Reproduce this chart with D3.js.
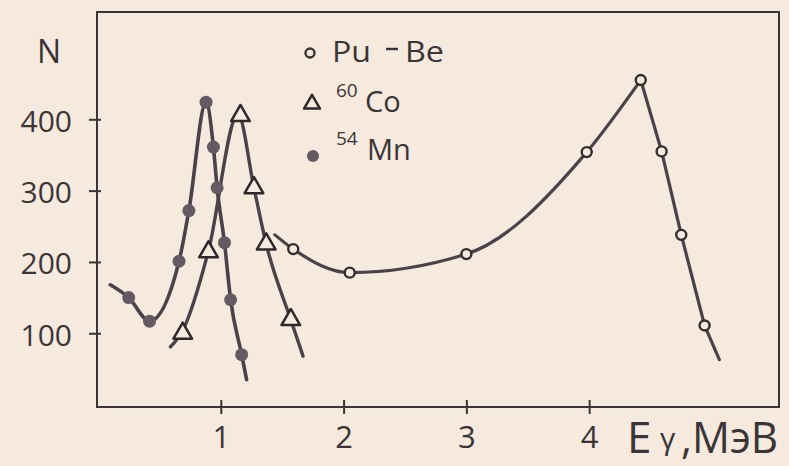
<!DOCTYPE html>
<html>
<head>
<meta charset="utf-8">
<script src="https://cdn.jsdelivr.net/npm/d3@7"></script>
<style>
  body { margin: 0; background: #f6e9dd; }
  svg { display: block; }
  text { font-family: "Open Sans", "DejaVu Sans", sans-serif; font-weight: 400; fill: #3b3537; }
</style>
</head>
<body>
<div id="chart"></div>
<script>
var canvasWidth = 789;
var canvasHeight = 466;

// values (E in MeV, N counts)
var xTicks = [1, 2, 3, 4];
var yTicks = [100, 200, 300, 400];

var puE = [1.59, 2.05, 3.00, 3.98, 4.42, 4.59, 4.75, 4.94];
var puN = [218, 185, 211, 354, 455, 355, 238, 111];
var puCurveE = [1.44, 1.59, 2.05, 3.00, 3.98, 4.42];
var puCurveN = [238, 218, 185, 211, 354, 455];
var puTailE = [4.42, 4.59, 4.75, 4.94, 5.06];
var puTailN = [455, 355, 238, 111, 63];

var coE = [0.69, 0.90, 1.16, 1.27, 1.37, 1.57];
var coN = [100, 214, 405, 304, 225, 119];
var coCurveE = [0.59, 0.69, 0.90, 1.14, 1.27, 1.37, 1.57, 1.67];
var coCurveN = [81, 104, 216, 407, 304, 225, 119, 68];

var mnE = [0.25, 0.42, 0.66, 0.74, 0.88, 0.94, 0.97, 1.03, 1.08, 1.17];
var mnN = [150, 117, 201, 272, 424, 361, 304, 227, 147, 70];
var mnCurveE = [0.10, 0.25, 0.42, 0.66, 0.74, 0.88, 0.94, 0.97, 1.03, 1.08, 1.17, 1.21];
var mnCurveN = [168, 150, 117, 201, 272, 424, 361, 304, 227, 147, 70, 35];

var svg = d3.select("#chart")
    .append("svg")
    .attr("width", canvasWidth)
    .attr("height", canvasHeight);

var xScale = d3.scaleLinear().domain([0, 5.546]).range([98, 779]);
var yScale = d3.scaleLinear().domain([0, 550]).range([404.6, 12.3]);

var ink = "#3b3537";
var lineCol = "#4a4248";
var paper = "#f6e9dd";

/*frame*/
svg.append("rect")
    .attr("x", 97).attr("y", 12)
    .attr("width", 682).attr("height", 395)
    .attr("fill", "none")
    .attr("stroke", ink)
    .attr("stroke-width", 2);

/*X axis with crossing ticks*/
var xAxis = svg.append("g")
    .attr("transform", "translate(0,407)")
    .call(d3.axisBottom(xScale).tickValues(xTicks).tickSize(7).tickPadding(12).tickFormat(d3.format("d")));
xAxis.select(".domain").remove();
xAxis.selectAll("line").attr("y1", -7).attr("stroke", ink).attr("stroke-width", 2);
xAxis.selectAll("text").attr("font-size", 31).attr("font-family", null).attr("fill", ink);

/*Y axis*/
var yAxis = svg.append("g")
    .attr("transform", "translate(97,0)")
    .call(d3.axisLeft(yScale).tickValues(yTicks).tickSize(8).tickPadding(17));
yAxis.select(".domain").remove();
yAxis.selectAll("line").attr("x1", 4).attr("stroke", ink).attr("stroke-width", 2);
yAxis.selectAll("text").attr("font-size", 30).attr("font-family", null).attr("fill", ink).attr("dy", "0.4em");

svg.append("text").attr("x", 37).attr("y", 63).attr("font-size", 32).text("N");

/*x label*/
svg.append("text").attr("x", 627).attr("y", 453).attr("font-size", 44).text("E");
svg.append("text").attr("x", 660).attr("y", 449).attr("font-size", 30).text("γ");
svg.append("text").attr("x", 681).attr("y", 453).attr("font-size", 44)
    .attr("textLength", 97).attr("lengthAdjust", "spacingAndGlyphs").text(",МэВ");

/*curves*/
function drawCurve(xs, ys, curve, width) {
    var pts = xs.map(function(d, i) { return [d, ys[i]]; });
    svg.append("path")
        .attr("fill", "none")
        .attr("stroke", lineCol)
        .attr("stroke-width", width)
        .attr("stroke-linecap", "round")
        .attr("d", d3.line()
            .x(function(d) { return xScale(d[0]); })
            .y(function(d) { return yScale(d[1]); })
            .curve(curve)(pts));
}
drawCurve(mnCurveE, mnCurveN, d3.curveMonotoneX, 3.6);
drawCurve(coCurveE, coCurveN, d3.curveMonotoneX, 3.4);
drawCurve(puCurveE, puCurveN, d3.curveMonotoneX, 3.2);
drawCurve(puTailE, puTailN, d3.curveLinear, 3.2);

/*markers*/
svg.append("g").selectAll("circle")
    .data(mnE)
    .join("circle")
    .attr("cx", function(d) { return xScale(d); })
    .attr("cy", function(d, i) { return yScale(mnN[i]); })
    .attr("r", 6.5)
    .attr("fill", "#655a63");

var tri = d3.symbol().type(d3.symbolTriangle).size(150);
svg.append("g").selectAll("path")
    .data(coE)
    .join("path")
    .attr("d", tri)
    .attr("transform", function(d, i) { return "translate(" + xScale(d) + "," + yScale(coN[i]) + ")"; })
    .attr("fill", paper)
    .attr("stroke", "#2e282a")
    .attr("stroke-width", 2.5)
    .attr("stroke-linejoin", "round");

svg.append("g").selectAll("circle")
    .data(puE)
    .join("circle")
    .attr("cx", function(d) { return xScale(d); })
    .attr("cy", function(d, i) { return yScale(puN[i]); })
    .attr("r", 5)
    .attr("fill", paper)
    .attr("stroke", "#332d2f")
    .attr("stroke-width", 2.4);

/*legend*/
var legend = svg.append("g");
legend.append("circle").attr("cx", 310).attr("cy", 53).attr("r", 4.5)
    .attr("fill", "none").attr("stroke", ink).attr("stroke-width", 2.4);
legend.append("text").attr("x", 332).attr("y", 62).attr("font-size", 30)
    .attr("textLength", 39).attr("lengthAdjust", "spacingAndGlyphs").text("Pu");
legend.append("line").attr("x1", 386).attr("x2", 398).attr("y1", 49).attr("y2", 49)
    .attr("stroke", ink).attr("stroke-width", 2.4);
legend.append("text").attr("x", 405).attr("y", 62).attr("font-size", 30)
    .attr("textLength", 39).attr("lengthAdjust", "spacingAndGlyphs").text("Be");

legend.append("path").attr("d", tri.size(110))
    .attr("transform", "translate(312,104)")
    .attr("fill", "none").attr("stroke", "#2e282a").attr("stroke-width", 2.5).attr("stroke-linejoin", "round");
legend.append("text").attr("x", 336).attr("y", 97).attr("font-size", 19).text("60");
legend.append("text").attr("x", 365).attr("y", 112).attr("font-size", 29).text("Co");

legend.append("circle").attr("cx", 313).attr("cy", 156).attr("r", 6)
    .attr("fill", "#655a63");
legend.append("text").attr("x", 336).attr("y", 145).attr("font-size", 19).text("54");
legend.append("text").attr("x", 367).attr("y", 160).attr("font-size", 29).text("Mn");
</script>
</body>
</html>
